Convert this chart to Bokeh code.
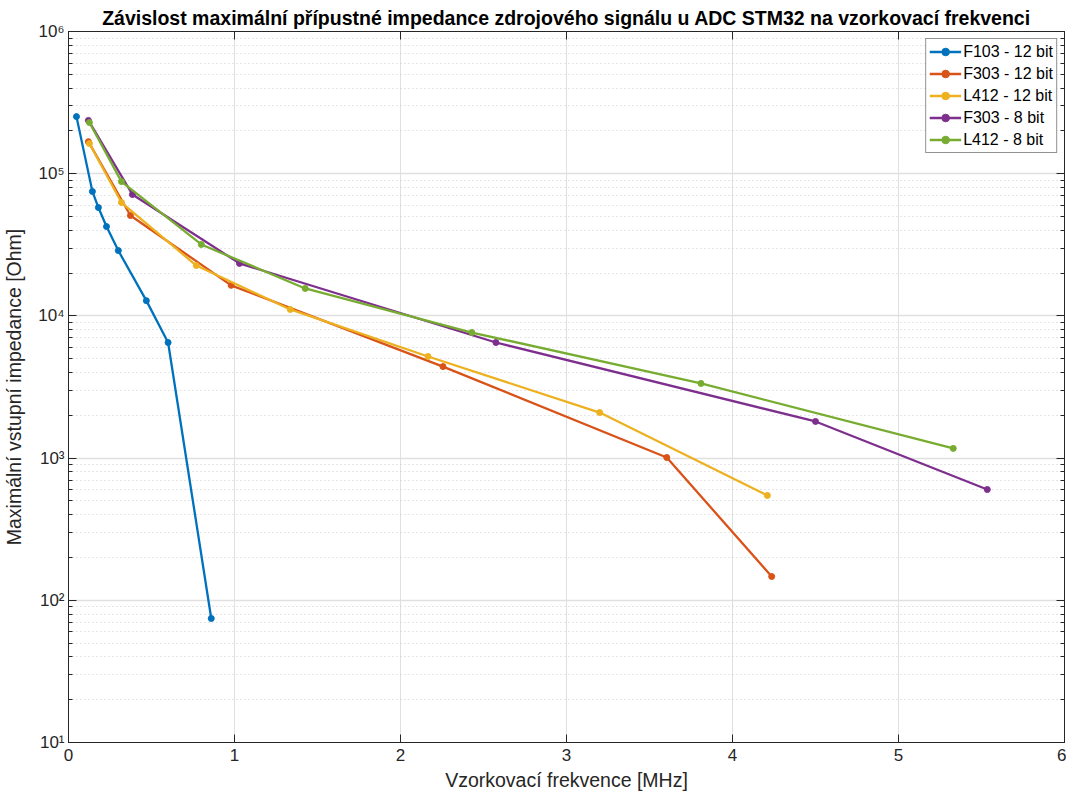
from bokeh.plotting import figure
from bokeh.models import LinearAxis, LogAxis, FixedTicker, Legend, LegendItem, Range1d
from bokeh.embed import file_html
from bokeh.resources import INLINE

FONT = "Liberation Sans"

# ---- data (MHz, Ohm) ----
f103_12_x = [0.048, 0.144, 0.18, 0.229, 0.30, 0.469, 0.60, 0.86]
f103_12_y = [252000, 75000, 57800, 42500, 28800, 12800, 6500, 74.5]

f303_12_x = [0.12, 0.373, 0.98, 2.256, 3.604, 4.236]
f303_12_y = [168000, 50800, 16400, 4400, 1010, 147]

l412_12_x = [0.126, 0.319, 0.77, 1.336, 2.166, 3.20, 4.21]
l412_12_y = [163000, 62700, 22600, 11100, 5180, 2090, 546]

f303_8_x = [0.12, 0.385, 1.03, 2.575, 4.50, 5.535]
f303_8_y = [237000, 71400, 23400, 6500, 1810, 601]

l412_8_x = [0.126, 0.319, 0.80, 1.426, 2.43, 3.81, 5.33]
l412_8_y = [229000, 88000, 31800, 15600, 7640, 3350, 1170]

series_names = ["F103 - 12 bit", "F303 - 12 bit", "L412 - 12 bit", "F303 - 8 bit", "L412 - 8 bit"]
series_colors = ["#0072BD", "#D95319", "#EDB120", "#7E2F8E", "#77AC30"]
series_x = [f103_12_x, f303_12_x, l412_12_x, f303_8_x, l412_8_x]
series_y = [f103_12_y, f303_12_y, l412_12_y, f303_8_y, l412_8_y]

x_ticks = [0, 1, 2, 3, 4, 5, 6]
y_ticks = [1e1, 1e2, 1e3, 1e4, 1e5, 1e6]
y_tick_labels = ["10¹", "10²", "10³", "10⁴", "10⁵", "10⁶"]

p = figure(width=1066, height=793, y_axis_type="log",
           x_range=Range1d(0, 6), y_range=Range1d(10, 1e6),
           output_backend="svg", toolbar_location=None,
           min_border_left=67, min_border_right=2, min_border_bottom=50, min_border_top=31)

p.title.text = "Závislost maximální přípustné impedance zdrojového signálu u ADC STM32 na vzorkovací frekvenci"
p.title.align = "center"
p.title.text_font = FONT
p.title.text_font_size = "19.5px"
p.title.text_font_style = "bold"
p.title.text_color = "#000000"
p.title.standoff = 6

p.outline_line_color = "#262626"

items = []
for name, col, xs, ys in zip(series_names, series_colors, series_x, series_y):
    r1 = p.line(xs, ys, line_color=col, line_width=2.3)
    r2 = p.scatter(xs, ys, marker="circle", size=6, fill_color=col, line_color=col)
    items.append(LegendItem(label=name, renderers=[r1, r2]))

for ax in [p.xaxis[0], p.yaxis[0]]:
    ax.axis_line_color = "#262626"
    ax.major_tick_line_color = "#262626"
    ax.minor_tick_line_color = "#262626"
    ax.major_tick_in = 8
    ax.major_tick_out = 0
    ax.minor_tick_in = 4
    ax.minor_tick_out = 0
    ax.major_label_text_font = FONT
    ax.major_label_text_font_size = "17px"
    ax.major_label_text_color = "#262626"
    ax.axis_label_text_font = FONT
    ax.axis_label_text_font_size = "19.5px"
    ax.axis_label_text_font_style = "normal"
    ax.axis_label_text_color = "#262626"

p.xaxis[0].ticker = FixedTicker(ticks=x_ticks)
p.xaxis[0].minor_tick_line_color = None
p.xaxis[0].axis_label = "Vzorkovací frekvence [MHz]"
p.xaxis[0].axis_label_standoff = 5
p.xaxis[0].major_label_standoff = 6

p.yaxis[0].major_label_overrides = {t: s for t, s in zip(y_ticks, y_tick_labels)}
p.yaxis[0].major_label_text_font_size = "17px"
p.yaxis[0].axis_label = "Maximální vstupní impedance [Ohm]"
p.yaxis[0].axis_label_standoff = 10
p.yaxis[0].major_label_standoff = 4
p.yaxis[0].ticker.num_minor_ticks = 10

# top and right axes (ticks only)
top = LinearAxis(ticker=FixedTicker(ticks=x_ticks), major_label_text_font_size="1px",
                 major_label_text_alpha=0,
                 axis_line_color="#262626", major_tick_line_color="#262626",
                 major_tick_in=8, major_tick_out=0, minor_tick_line_color=None,
                 major_label_standoff=0, axis_label_standoff=0)
right = LogAxis(major_label_text_font_size="1px", major_label_text_alpha=0,
                axis_line_color="#262626", major_tick_line_color="#262626",
                minor_tick_line_color="#262626",
                major_tick_in=8, major_tick_out=0, minor_tick_in=4, minor_tick_out=0,
                major_label_standoff=0, axis_label_standoff=0)
right.ticker.num_minor_ticks = 10
p.add_layout(top, "above")
p.add_layout(right, "right")

p.xgrid.grid_line_color = "#e0e0e0"
p.xgrid.ticker = FixedTicker(ticks=x_ticks)
p.ygrid.grid_line_color = "#e0e0e0"
p.ygrid.grid_line_width = 1.5
p.ygrid.minor_grid_line_color = "#cccccc"
p.ygrid.minor_grid_line_dash = "1 3"

legend = Legend(items=items, location="top_right")
legend.label_text_font = FONT
legend.label_text_font_size = "16px"
legend.label_text_color = "#000000"
legend.border_line_color = "#262626"
legend.border_line_width = 1
legend.background_fill_alpha = 1
legend.glyph_width = 32
legend.glyph_height = 19
legend.label_height = 19
legend.spacing = 3
legend.padding = 3
legend.margin = 7
legend.label_standoff = 2
p.add_layout(legend)

open("out.html", "w").write(file_html(p, INLINE))
